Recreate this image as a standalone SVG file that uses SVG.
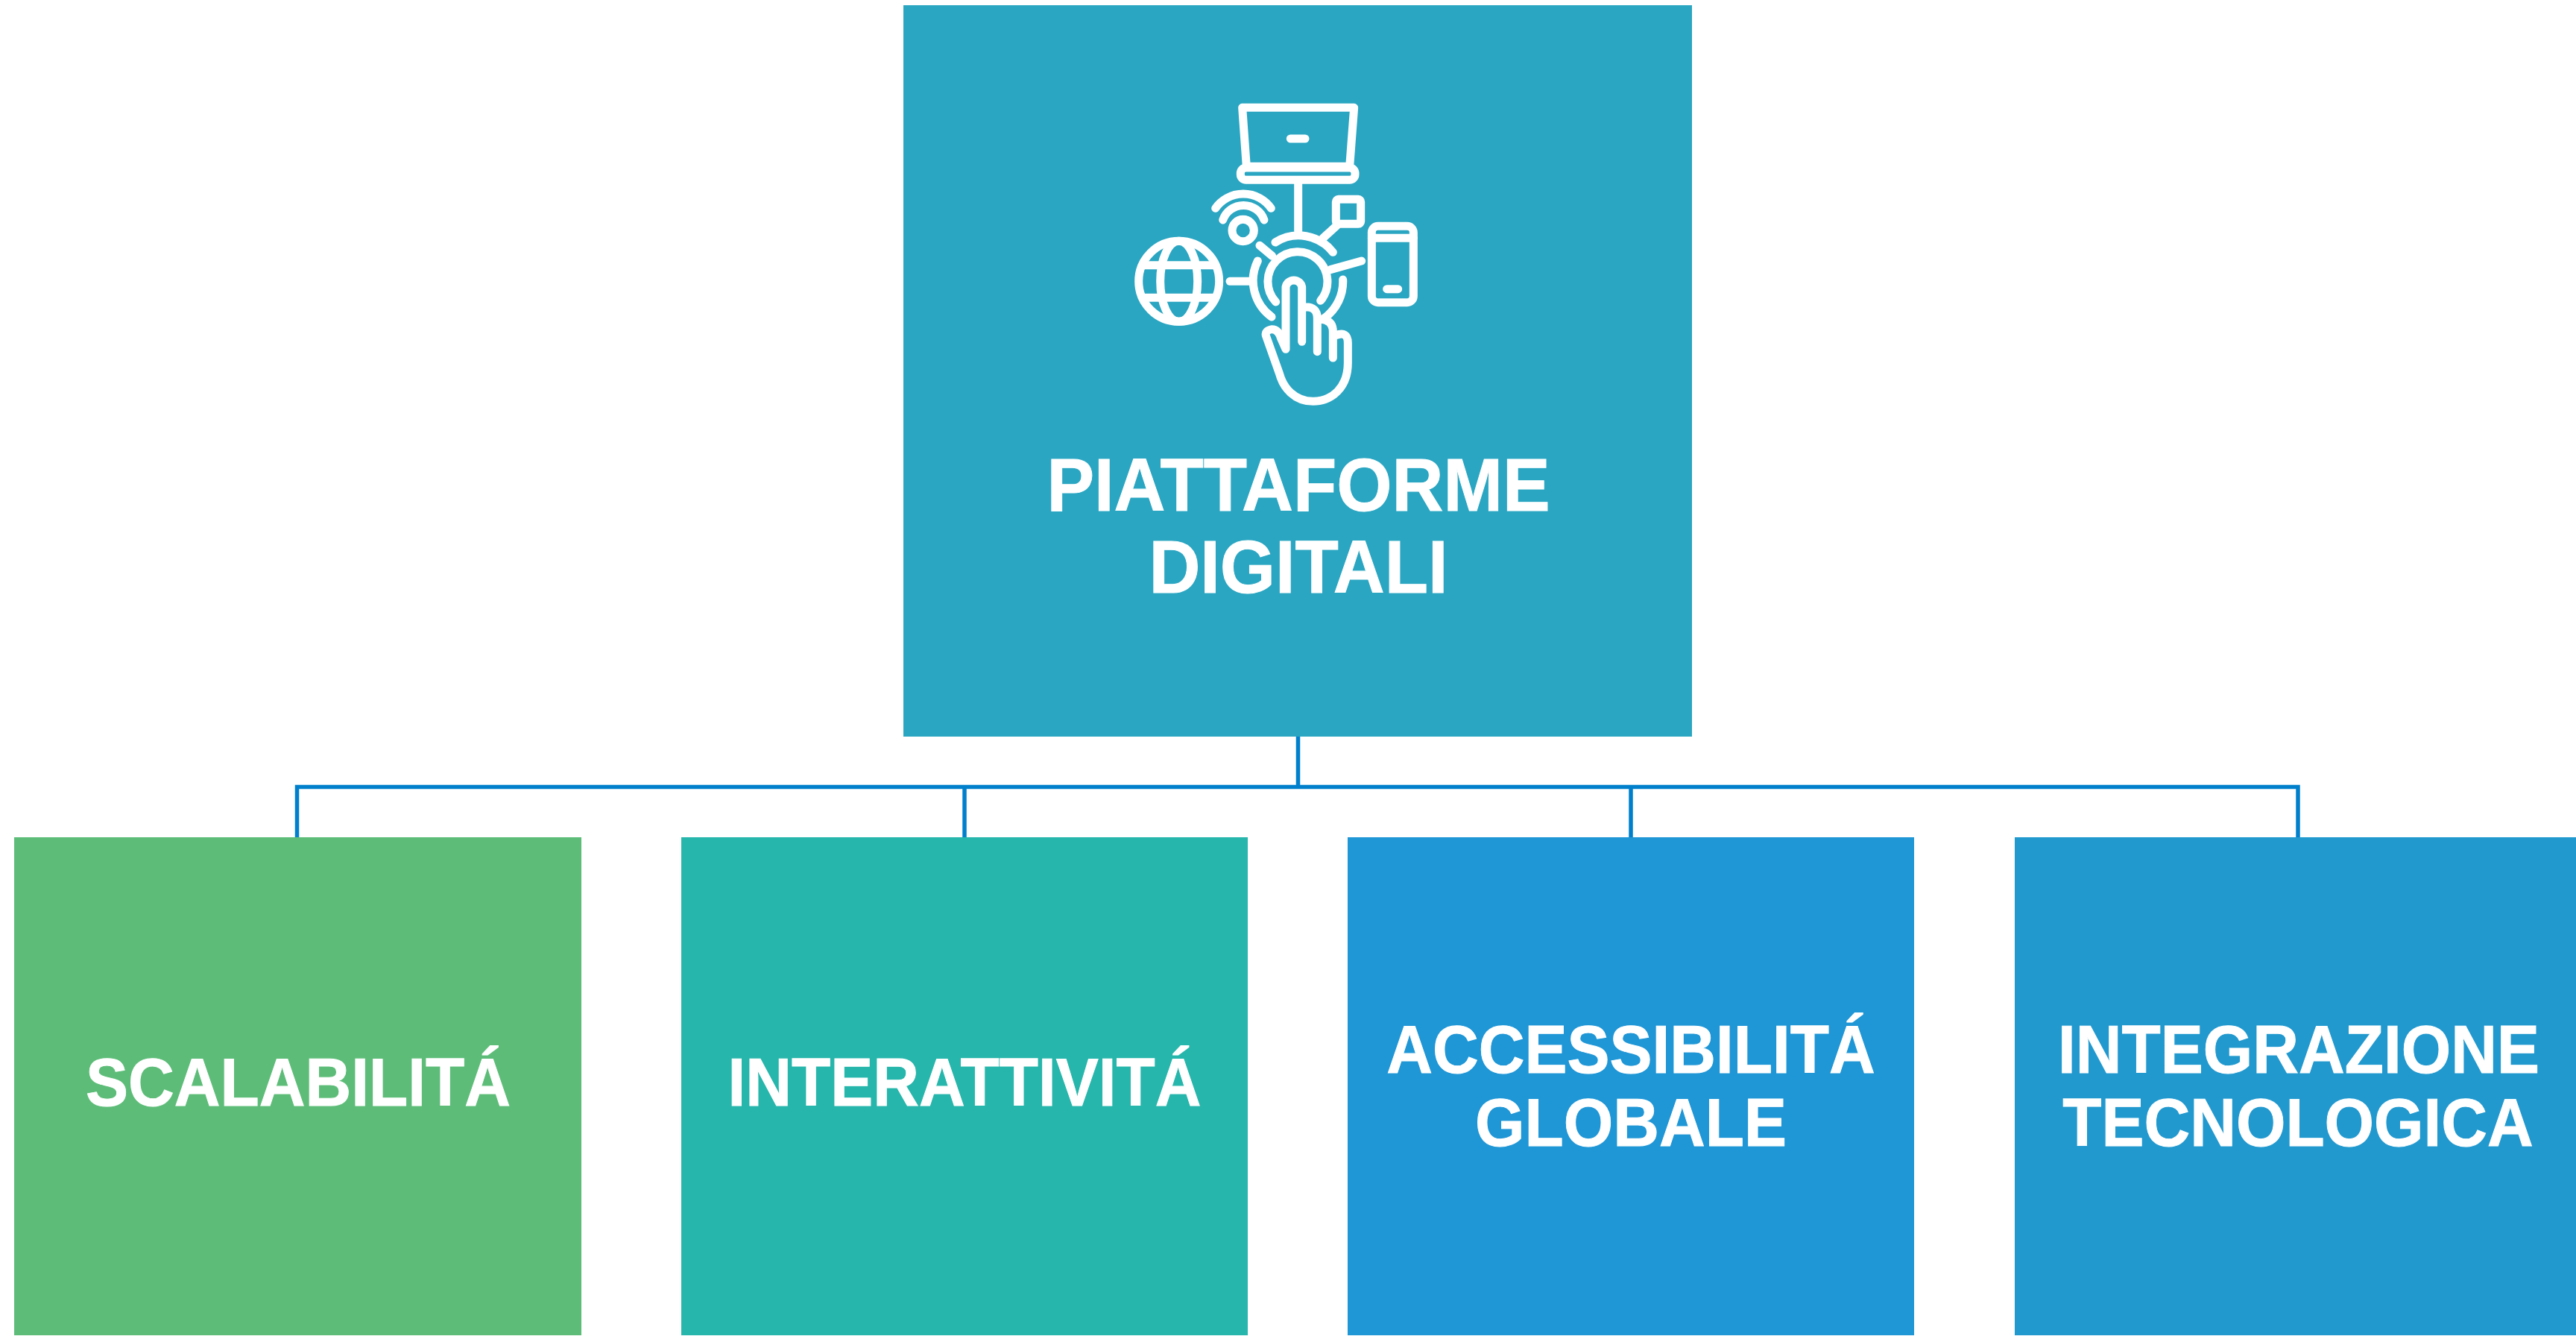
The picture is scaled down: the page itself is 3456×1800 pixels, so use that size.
<svg xmlns="http://www.w3.org/2000/svg" width="3456" height="1800" viewBox="0 0 3456 1800">
<style>
.t{font-family:"Liberation Sans",Arial,sans-serif;font-weight:700;fill:#fff;stroke:#fff;stroke-width:1;text-anchor:middle}
.big{font-size:100.500px}.sm{font-size:90px}
.c{fill:none;stroke:#0080cc;stroke-width:5.500}
.i{fill:none;stroke:#fff;stroke-width:33;stroke-linecap:round;stroke-linejoin:round}
</style>
<rect width="3456" height="1800" fill="#fff"/>
<g id="connectors">
<path class="c" d="M1741.500 988V1055.500M398.500 1123V1055.500H3083V1123M1294 1055.500V1123M2188 1055.500V1123"/>
</g>
<g id="node-root">
<rect x="1212" y="7" width="1058" height="981" fill="#2aa6c2"/>
<g transform="translate(1480 110) scale(.33333)" class="i">
<path d="M560 103H1010L992 340H577Z"/><rect x="553" y="345" width="461" height="49" rx="22"/><path d="M754 228H813"/><path d="M785 405V600"/>
<path d="M452 508A137 137 0 0 1 676 508M482 555A88 88 0 0 1 648 555"/><circle cx="563" cy="597" r="44"/>
<rect x="937" y="472" width="100" height="99" rx="10"/><path d="M885 628L940 578"/>
<rect x="1081" y="580" width="168" height="307" rx="25"/><path d="M1081 628H1249M1142 833H1187"/>
<circle cx="305" cy="802" r="162"/><ellipse cx="305" cy="802" rx="75" ry="162"/><path d="M165 737H445M165 868H445"/>
<path d="M510 802H590M630 658L680 700M915 755L1040 720"/>
<path d="M693 645A175 175 0 0 1 925 685M622 720A180 180 0 0 0 678 945M965 795A180 180 0 0 1 890 950"/>
<path d="M695 885A120 120 0 1 1 875 880"/>
<path d="M735 1075V825A33 33 0 0 1 800 825V1045M815 905Q862 905 862 950V1085M880 955Q925 960 925 1005V1110M935 1020Q985 1000 985 1050V1130C985 1230 920 1285 845 1285C770 1285 725 1230 710 1175L655 1020Q650 1000 680 995Q705 995 715 1030L735 1075"/>
</g>
<text class="t big" transform="translate(1742 684.500) scale(.95 1)">PIATTAFORME</text>
<text class="t big" transform="translate(1742 794.500) scale(.95 1)">DIGITALI</text>
</g>
<g id="node-scalabilita"><rect x="19" y="1123" width="761" height="668" fill="#5dbd78"/><text class="t sm" transform="translate(400 1483) scale(.95 1)">SCALABILITÁ</text></g>
<g id="node-interattivita"><rect x="914" y="1123" width="760" height="668" fill="#26b6ab"/><text class="t sm" transform="translate(1294 1483) scale(.95 1)">INTERATTIVITÁ</text></g>
<g id="node-accessibilita"><rect x="1808" y="1123" width="760" height="668" fill="#1f96d6"/><text class="t sm" transform="translate(2188 1439) scale(.95 1)">ACCESSIBILITÁ</text><text class="t sm" transform="translate(2188 1537) scale(.95 1)">GLOBALE</text></g>
<g id="node-integrazione"><rect x="2703" y="1123" width="753" height="668" fill="#2199cf"/><text class="t sm" transform="translate(3084 1439) scale(.95 1)">INTEGRAZIONE</text><text class="t sm" transform="translate(3083 1537) scale(.95 1)">TECNOLOGICA</text></g>
</svg>
